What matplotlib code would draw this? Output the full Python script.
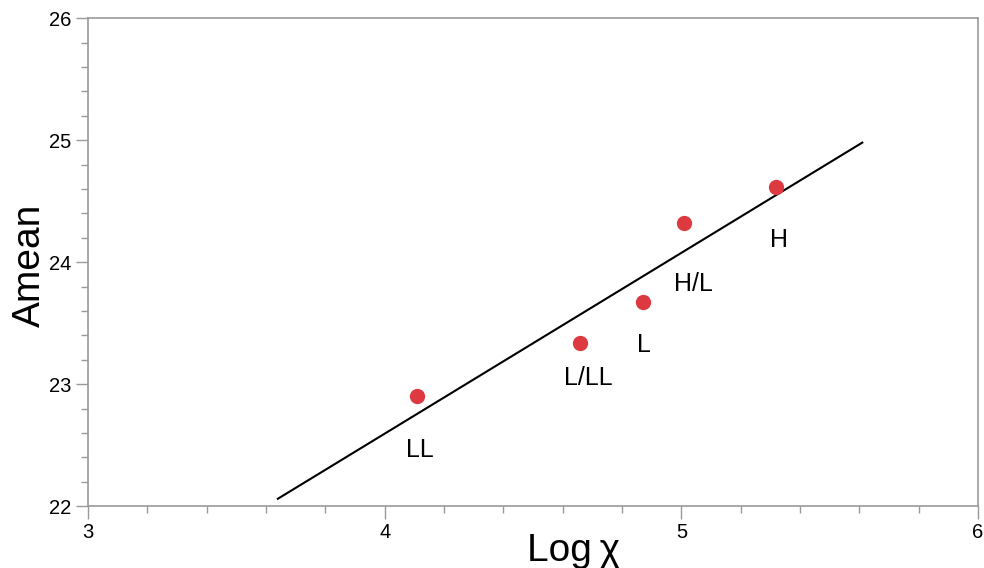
import numpy as np
import matplotlib.pyplot as plt
from matplotlib.ticker import MultipleLocator

plt.rcParams['font.family'] = ['Liberation Sans', 'DejaVu Sans']

# data
log_chi = [4.11, 4.66, 4.87, 5.01, 5.32]
amean = [22.90, 23.34, 23.67, 24.32, 24.62]
groups = ['LL', 'L/LL', 'L', 'H/L', 'H']
label_x = [4.12, 4.685, 4.875, 5.04, 5.33]
label_y = [22.46, 23.05, 23.32, 23.82, 24.18]

fit_x = [3.64, 5.61]
fit_y = [22.06, 24.98]

fig = plt.figure(figsize=(9.84, 5.68), dpi=100)
ax = fig.add_axes([0.0894, 0.109, 0.9045, 0.859])

ax.plot(fit_x, fit_y, '-', color='black', lw=1.5, zorder=2)
ax.plot(log_chi, amean, 'o', color='#dc3a40', markersize=10, zorder=3)
for gx, gy, g in zip(label_x, label_y, groups):
    ax.text(gx, gy, g, fontsize=18, ha='center', va='center')

ax.set_xlim(3, 6)
ax.set_ylim(22, 26)
ax.xaxis.set_major_locator(MultipleLocator(1))
ax.xaxis.set_minor_locator(MultipleLocator(0.2))
ax.yaxis.set_major_locator(MultipleLocator(1))
ax.yaxis.set_minor_locator(MultipleLocator(0.2))

for s in ax.spines.values():
    s.set_color('#999999')
    s.set_linewidth(1.2)
ax.tick_params(which='major', length=9, width=1, color='#999999', labelsize=14.5, pad=3)
ax.tick_params(which='minor', length=5, width=1, color='#999999')

ax.set_ylabel('Amean', fontsize=28)
ax.yaxis.set_label_coords(-0.045, 0.494)
ax.set_xlabel('Log\u2009\u03c7', fontsize=28)
ax.xaxis.set_label_coords(0.545, -0.055)
ax.xaxis.label.set_va('top')

fig.savefig('out.png', dpi=100)
